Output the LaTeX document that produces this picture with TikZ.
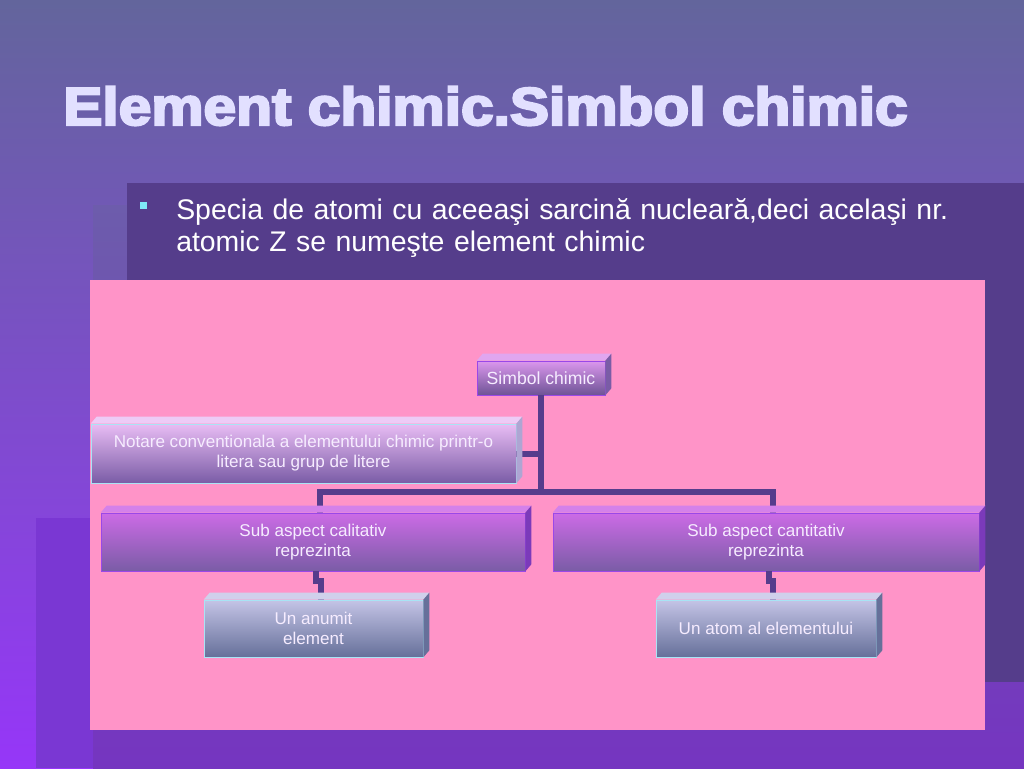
\documentclass[tikz,border=0pt]{standalone}
\usepackage{fontspec}
\setmainfont{Liberation Sans}
\newfontfamily\titlefont[BoldFeatures={FakeBold=4}]{Liberation Sans}
\usetikzlibrary{positioning}

\definecolor{bgtop}{HTML}{63659C}
\definecolor{bgbot}{HTML}{9636F8}
\definecolor{layerA}{HTML}{7A37D3}
\definecolor{layerBtop}{HTML}{6D5CAC}
\definecolor{layerBbot}{HTML}{7535C0}
\definecolor{panel}{HTML}{553D8B}
\definecolor{pinkpanel}{HTML}{FF94C8}
\definecolor{titletext}{HTML}{E2E0FF}
\definecolor{bulletcol}{HTML}{7FE9F7}
\definecolor{linkcol}{HTML}{563C8C}
\definecolor{violettop}{HTML}{CC6BE6}
\definecolor{violetbot}{HTML}{7A5CA6}
\definecolor{violetedge}{HTML}{9A48E8}
\definecolor{bluetop}{HTML}{C4C4E6}
\definecolor{bluebot}{HTML}{66709A}
\definecolor{blueedge}{HTML}{A8E4F4}
\definecolor{boxtext}{HTML}{F6ECFF}

\tikzset{
  chartbox/.style={inner sep=2pt, align=center, text=boxtext,
    font=\fontsize{12.8}{15}\selectfont},
  purplebox/.style={chartbox, top color=violettop, bottom color=violetbot,
    draw=violetedge, line width=0.5pt},
  bluebox/.style={chartbox, top color=bluetop, bottom color=bluebot,
    draw=blueedge, line width=0.5pt},
  link/.style={draw=linkcol, line width=4.5pt}
}

% top and side faces of a box
\newcommand\boxbevel[3]{%
  \fill[#2] (#1.north west) -- ++(6,-7) -- ([shift={(6,-7)}]#1.north east) -- (#1.north east) -- cycle;
  \fill[#3] (#1.north east) -- ++(6,-7) -- ([shift={(6,-7)}]#1.south east) -- (#1.south east) -- cycle;}

\begin{document}
\begin{tikzpicture}[x=0.75pt,y=-0.75pt]
  \useasboundingbox (0,0) rectangle (1024,768);
  % background layers
  \shade[top color=bgtop, bottom color=bgbot] (0,0) rectangle (1024,768);
  \fill[layerA] (36,518) rectangle (1024,768);
  \shade[top color=layerBtop, bottom color=layerBbot] (93,205) rectangle (1024,768);
  \fill[panel] (127,183) rectangle (1024,682);
  \fill[pinkpanel] (90,280) rectangle (985,730);

  % title and bullet
  \node[anchor=base west, inner sep=0, text=titletext, xscale=1.1,
    font=\titlefont\bfseries\fontsize{40}{48}\selectfont] (title) at (63,125) {Element chimic.Simbol chimic};
  \fill[bulletcol] (140,202) rectangle (147,209);
  \node[anchor=base west, inner sep=0, text=white, text width=820*0.75pt, align=left,
    font=\fontsize{21.3}{24}\selectfont] (bullet) at (176,219)
    {Specia de atomi cu aceeaşi sarcină nucleară,deci acelaşi nr.\\atomic Z se numeşte element chimic};

  % chart
  \node[purplebox, top color=violettop!70!white, bottom color=violetbot!90!black,
    font=\fontsize{13.2}{15}\selectfont,
    minimum width=96pt, minimum height=25.5pt] (simbol) at (541,378) {Simbol chimic};
  \node[purplebox, top color=violettop!45!white, bottom color=violetbot, draw=blueedge,
    minimum width=318.75pt, minimum height=44.25pt] (notare) at (303.5,453.5)
    {Notare conventionala a elementului chimic printr-o\\litera sau grup de litere};
  \node[purplebox, minimum width=318pt, minimum height=43.5pt] (calit) at (313,542)
    {Sub aspect calitativ\\reprezinta};
  \node[purplebox, minimum width=319.5pt, minimum height=43.5pt] (cantit) at (766,542)
    {Sub aspect cantitativ\\reprezinta};
  \node[bluebox, minimum width=164.25pt, minimum height=42.75pt] (anumit) at (313.5,628.5)
    {Un anumit\\element};
  \node[bluebox, minimum width=165pt, minimum height=42.75pt] (atom) at (766,628.5)
    {Un atom al elementului};

  \coordinate (hub) at (541,492);
  \draw[link] (simbol.south) -- (hub);
  \draw[link] (notare.east) -- (notare.east -| hub);
  \draw[link] ([xshift=5.25pt]calit.north) |- (hub) -| ([xshift=5.25pt]cantit.north);
  \draw[link] ([xshift=2.25pt]calit.south) -- ++(0,10) -| ([xshift=5.25pt]anumit.north);
  \draw[link] ([xshift=2.25pt]cantit.south) -- ++(0,10) -| ([xshift=5.25pt]atom.north);

  \boxbevel{simbol}{violettop!60!white}{violetbot}
  \boxbevel{notare}{violettop!35!white}{bluetop!70!violetbot}
  \boxbevel{calit}{violettop!85!white}{violetedge!80!black}
  \boxbevel{cantit}{violettop!85!white}{violetedge!80!black}
  \boxbevel{anumit}{bluetop!80!white}{bluebot}
  \boxbevel{atom}{bluetop!80!white}{bluebot}
\end{tikzpicture}
\end{document}
